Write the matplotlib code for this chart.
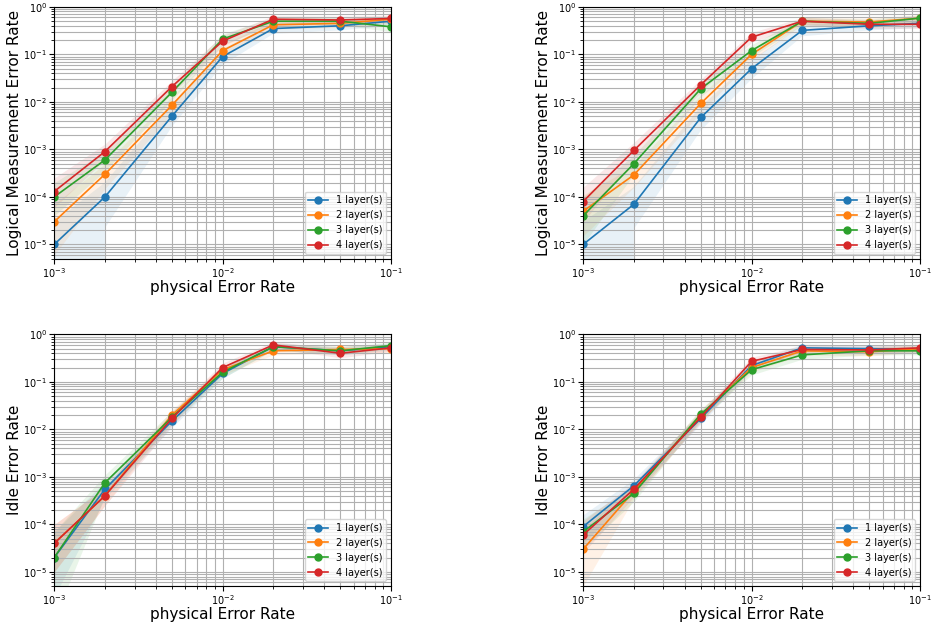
import matplotlib
matplotlib.use("Agg")
import matplotlib.pyplot as plt

# physical error rates (x axis)
p = [1e-3, 2e-3, 5e-3, 1e-2, 2e-2, 5e-2, 1e-1]
labels = ["1 layer(s)", "2 layer(s)", "3 layer(s)", "4 layer(s)"]
colors = ["tab:blue", "tab:orange", "tab:green", "tab:red"]

# top left: logical measurement error rate
meas_a = [
    [1e-5, 1e-4, 5e-3, 9e-2, 0.35, 0.40, 0.50],
    [3e-5, 3e-4, 8.5e-3, 0.12, 0.42, 0.45, 0.55],
    [1e-4, 6e-4, 1.6e-2, 0.21, 0.50, 0.50, 0.38],
    [1.3e-4, 9e-4, 2.1e-2, 0.19, 0.55, 0.53, 0.57],
]
meas_a_lo = [
    [0, 2.2e-5, 3e-3, 6e-2, 0.27, 0.32, 0.40],
    [6e-6, 1.5e-4, 5.5e-3, 9e-2, 0.34, 0.37, 0.45],
    [4e-5, 3.5e-4, 1.1e-2, 0.16, 0.42, 0.42, 0.30],
    [6e-5, 6e-4, 1.5e-2, 0.15, 0.46, 0.45, 0.48],
]
meas_a_hi = [
    [3e-5, 2e-4, 9e-3, 0.13, 0.45, 0.50, 0.60],
    [7e-5, 5e-4, 1.3e-2, 0.16, 0.52, 0.55, 0.65],
    [2e-4, 9e-4, 2.2e-2, 0.27, 0.60, 0.60, 0.48],
    [2.5e-4, 1.3e-3, 2.8e-2, 0.25, 0.65, 0.63, 0.67],
]

# top right: logical measurement error rate
meas_b = [
    [1e-5, 7e-5, 4.7e-3, 5e-2, 0.32, 0.40, 0.45],
    [5e-5, 2.9e-4, 9.3e-3, 0.10, 0.50, 0.48, 0.58],
    [4e-5, 5e-4, 1.9e-2, 0.12, 0.50, 0.45, 0.58],
    [8e-5, 9.5e-4, 2.3e-2, 0.23, 0.50, 0.43, 0.43],
]
meas_b_lo = [
    [0, 2.1e-5, 2.5e-3, 3e-2, 0.24, 0.32, 0.36],
    [1.5e-5, 1.6e-4, 6e-3, 7.5e-2, 0.42, 0.40, 0.48],
    [1e-5, 3e-4, 1.3e-2, 9e-2, 0.42, 0.37, 0.48],
    [3e-5, 6e-4, 1.6e-2, 0.18, 0.42, 0.35, 0.35],
]
meas_b_hi = [
    [3e-5, 1.6e-4, 8e-3, 7.5e-2, 0.42, 0.50, 0.55],
    [1.1e-4, 4.5e-4, 1.4e-2, 0.13, 0.60, 0.58, 0.68],
    [1e-4, 7.5e-4, 2.6e-2, 0.16, 0.60, 0.55, 0.68],
    [1.6e-4, 1.4e-3, 3e-2, 0.29, 0.60, 0.53, 0.53],
]

# bottom left: idle error rate
idle_a = [
    [2e-5, 5.5e-4, 1.5e-2, 0.15, 0.55, 0.45, 0.55],
    [4e-5, 4e-4, 2e-2, 0.18, 0.45, 0.48, 0.50],
    [2e-5, 7.5e-4, 1.8e-2, 0.16, 0.55, 0.45, 0.58],
    [4e-5, 4e-4, 1.7e-2, 0.20, 0.60, 0.40, 0.52],
]
idle_a_lo = [
    [3e-6, 3.5e-4, 1.1e-2, 0.12, 0.47, 0.37, 0.47],
    [1e-5, 2.5e-4, 1.5e-2, 0.14, 0.37, 0.40, 0.42],
    [1e-6, 4e-4, 1.3e-2, 0.12, 0.47, 0.37, 0.50],
    [1e-5, 2.5e-4, 1.2e-2, 0.16, 0.52, 0.32, 0.44],
]
idle_a_hi = [
    [7e-5, 8e-4, 2e-2, 0.19, 0.65, 0.55, 0.65],
    [1e-4, 6e-4, 2.6e-2, 0.22, 0.55, 0.58, 0.60],
    [7e-5, 1.1e-3, 2.4e-2, 0.20, 0.65, 0.55, 0.68],
    [1e-4, 6e-4, 2.3e-2, 0.25, 0.70, 0.50, 0.62],
]

# bottom right: idle error rate
idle_b = [
    [9e-5, 6.5e-4, 1.7e-2, 0.22, 0.52, 0.50, 0.48],
    [3e-5, 5e-4, 2e-2, 0.20, 0.45, 0.43, 0.50],
    [7e-5, 4.5e-4, 2.1e-2, 0.18, 0.37, 0.45, 0.45],
    [6e-5, 5.5e-4, 1.8e-2, 0.27, 0.48, 0.47, 0.52],
]
idle_b_lo = [
    [4e-5, 4.5e-4, 1.3e-2, 0.18, 0.44, 0.42, 0.40],
    [5e-6, 3.5e-4, 1.5e-2, 0.16, 0.37, 0.35, 0.42],
    [3e-5, 3e-4, 1.6e-2, 0.14, 0.30, 0.37, 0.37],
    [2.5e-5, 3.8e-4, 1.4e-2, 0.22, 0.40, 0.39, 0.44],
]
idle_b_hi = [
    [1.6e-4, 9e-4, 2.3e-2, 0.27, 0.62, 0.60, 0.58],
    [8e-5, 7e-4, 2.6e-2, 0.25, 0.55, 0.53, 0.60],
    [1.3e-4, 6.5e-4, 2.7e-2, 0.23, 0.46, 0.55, 0.55],
    [1.2e-4, 7.5e-4, 2.4e-2, 0.33, 0.58, 0.57, 0.62],
]

panels = [
    (meas_a, meas_a_lo, meas_a_hi, "Logical Measurement Error Rate"),
    (meas_b, meas_b_lo, meas_b_hi, "Logical Measurement Error Rate"),
    (idle_a, idle_a_lo, idle_a_hi, "Idle Error Rate"),
    (idle_b, idle_b_lo, idle_b_hi, "Idle Error Rate"),
]

fig, axes = plt.subplots(2, 2, figsize=(9.34, 6.25), dpi=100)
plt.subplots_adjust(left=0.058, right=0.985, top=0.989, bottom=0.062,
                    wspace=0.57, hspace=0.3)

for ax, (vals, lo, hi, ylab) in zip(axes.flat, panels):
    for i in range(4):
        ax.fill_between(p, lo[i], hi[i], color=colors[i], alpha=0.1, linewidth=0)
        ax.plot(p, vals[i], marker="o", markersize=5, linewidth=1.2,
                color=colors[i], label=labels[i])
    ax.set_xscale("log")
    ax.set_yscale("log")
    ax.set_xlim(1e-3, 1e-1)
    ax.set_ylim(5e-6, 1)
    ax.grid(True, which="both", color="#b0b0b0", linewidth=0.8)
    ax.tick_params(labelsize=7, pad=1.5)
    ax.set_xlabel("physical Error Rate", fontsize=11, labelpad=0)
    ax.set_ylabel(ylab, fontsize=11, labelpad=1)
    ax.legend(loc="lower right", fontsize=7)

plt.savefig("out.png")
